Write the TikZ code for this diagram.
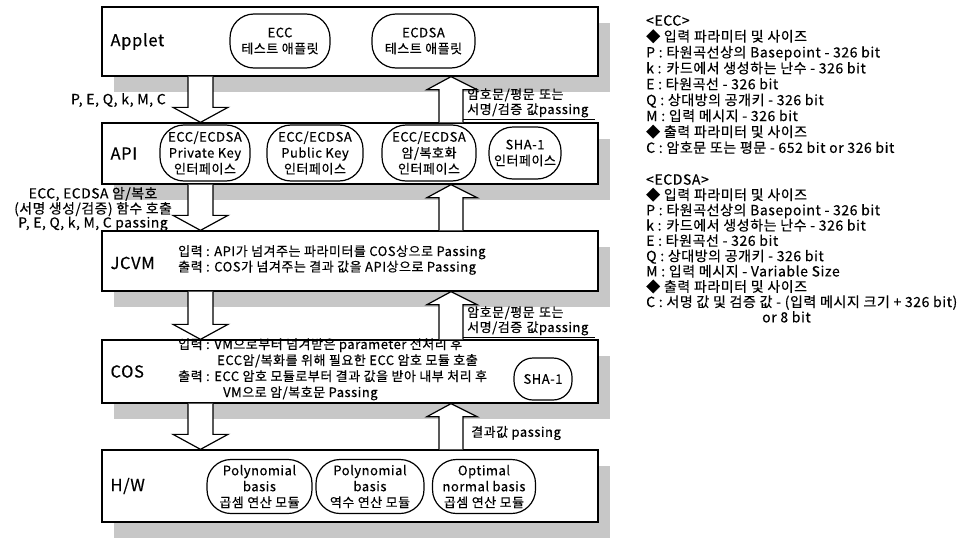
\documentclass[tikz,border=0pt]{standalone}
\usepackage{fontspec}
\setmainfont{Noto Sans CJK KR}[LetterSpace=4,FakeBold=0.4]
\usetikzlibrary{calc,positioning}

% hollow block arrows between two layers
\newcommand\blockdown[2]{%
  \draw[blockarrow] (188,0 |- #1.south) -- ($(188,0 |- #2.north)+(0,-15)$)
    -- ++(-15,0) -- (200.5,0 |- #2.north) -- ($(228,0 |- #2.north)+(0,-15)$)
    -- ++(-15,0) -- (213,0 |- #1.south);}
\newcommand\blockup[2]{%
  \draw[blockarrow] (439,0 |- #2.north) -- ($(439,0 |- #1.south)+(0,13)$)
    -- ++(-12,0) -- (451,0 |- #1.south) -- ($(477,0 |- #1.south)+(0,13)$)
    -- ++(-14,0) -- (463,0 |- #2.north);}

\begin{document}
\begin{tikzpicture}[x=1pt,y=-1pt,
  layer/.style={draw,line width=1.3pt,fill=white,minimum width=496pt,inner sep=0pt,
    preaction={fill=black!22,transform canvas={shift={(12pt,-16pt)}}}},
  tag/.style={font=\fontsize{16.5}{20}\selectfont,inner sep=0pt},
  module/.style={draw,line width=1.2pt,rounded corners=24pt,align=center,inner sep=0pt,
    font=\fontsize{13}{16}\selectfont},
  txt/.style={font=\fontsize{13}{15.5}\selectfont,align=left,inner sep=0pt},
  passlbl/.style={font=\fontsize{13}{15}\selectfont,anchor=south west,text width=124pt,
    inner xsep=4pt,inner ysep=1.5pt,align=left},
  blockarrow/.style={draw,fill=white,line width=1.2pt,line join=miter}]
  \useasboundingbox (0,0) rectangle (958,538);

  % layers
  \node[layer,minimum height=69pt] (applet) at (350,41.5) {};
  \node[layer,minimum height=61pt] (api) at (350,153.5) {};
  \node[layer,minimum height=60pt] (jcvm) at (350,261) {};
  \node[layer,minimum height=63pt] (cos) at (350,371.5) {};
  \node[layer,minimum height=72pt] (hw) at (350,486) {};

  \node[tag,right=9pt of applet.west] (appletname) {Applet};
  \node[tag,right=9pt of api.west] (apiname) {API};
  \node[tag,right=9pt of jcvm.west,yshift=-2pt] (jcvmname) {JCVM};
  \node[tag,right=9pt of cos.west] (cosname) {COS};
  \node[tag,right=9pt of hw.west] (hwname) {H/W};

  % modules
  \node[module,minimum width=100pt,minimum height=54pt] (eccapp) at (280,41) {ECC\\테스트 애플릿};
  \node[module,minimum width=103pt,minimum height=54pt] (ecdsaapp) at (423.5,41) {ECDSA\\테스트 애플릿};
  \node[module,minimum width=90pt,minimum height=56pt] (privkey) at (205,153) {ECC/ECDSA\\Private Key\\인터페이스};
  \node[module,minimum width=96pt,minimum height=56pt] (pubkey) at (315,153) {ECC/ECDSA\\Public Key\\인터페이스};
  \node[module,minimum width=94pt,minimum height=56pt] (cryptif) at (429,153) {ECC/ECDSA\\암/복호화\\인터페이스};
  \node[module,minimum width=72pt,minimum height=52pt] (shaif) at (525,153) {SHA-1\\인터페이스};
  \node[module,rounded corners=19pt,minimum width=58pt,minimum height=42pt] (shacos) at (543,379) {SHA-1};
  \node[module,minimum width=105pt,minimum height=54pt] (polymul) at (259.5,486.5) {Polynomial\\basis\\곱셈 연산 모듈};
  \node[module,minimum width=108pt,minimum height=54pt] (polyinv) at (370,486.5) {Polynomial\\basis\\역수 연산 모듈};
  \node[module,minimum width=103pt,minimum height=54pt] (onbmul) at (484,486.5) {Optimal\\normal basis\\곱셈 연산 모듈};

  % layer texts
  \node[txt,anchor=west] (jcvmtxt) at (178,260) {입력 : API가 넘겨주는 파라미터를 COS상으로 Passing\\
    출력 : COS가 넘겨주는 결과 값을 API상으로 Passing};
  \node[txt,anchor=north west,font=\fontsize{13}{16}\selectfont] (costxt) at (178,338) {입력 : VM으로부터 넘겨받은 parameter 전처리 후\\
    \hspace*{39pt}ECC암/복화를 위해 필요한 ECC 암호 모듈 호출\\
    출력 : ECC 암호 모듈로부터 결과 값을 받아 내부 처리 후\\
    \hspace*{45pt}VM으로 암/복호문 Passing};

  % arrows
  \blockdown{applet}{api}
  \blockdown{api}{jcvm}
  \blockdown{jcvm}{cos}
  \blockdown{cos}{hw}
  \blockup{applet}{api}
  \blockup{api}{jcvm}
  \blockup{jcvm}{cos}
  \blockup{cos}{hw}

  % arrow labels
  \node[txt,anchor=east,font=\fontsize{14}{15}\selectfont] (downlbl1) at (166,100) {P, E, Q, k, M, C};
  \node[txt,anchor=east,align=center,font=\fontsize{13.8}{14}\selectfont] (downlbl2) at (172,209)
    {ECC, ECDSA 암/복호\\(서명 생성/검증) 함수 호출\\P, E, Q, k, M, C passing};
  \node[passlbl] (uplbl1) at (463,119) {암호문/평문 또는\\서명/검증 값passing};
  \node[passlbl] (uplbl2) at (463,337) {암호문/평문 또는\\서명/검증 값passing};
  \draw[line width=1pt] (uplbl1.south west) -- (uplbl1.south east);
  \draw[line width=1pt] (uplbl2.south west) -- (uplbl2.south east);
  \node[txt,anchor=west] (uplbl3) at (471,433) {결과값 passing};

  % parameter notes
  \node[txt,anchor=north west,font=\fontsize{14}{15.9}\selectfont] (eccnote) at (646,15) {<ECC>\\
    ◆ 입력 파라미터 및 사이즈\\
    P : 타원곡선상의 Basepoint - 326 bit\\
    k : 카드에서 생성하는 난수 - 326 bit\\
    E : 타원곡선 - 326 bit\\
    Q : 상대방의 공개키 - 326 bit\\
    M : 입력 메시지 - 326 bit\\
    ◆ 출력 파라미터 및 사이즈\\
    C : 암호문 또는 평문 - 652 bit or 326 bit};
  \node[txt,anchor=north west,font=\fontsize{14}{15.3}\selectfont] (ecdsanote) at (646,174) {<ECDSA>\\
    ◆ 입력 파라미터 및 사이즈\\
    P : 타원곡선상의 Basepoint - 326 bit\\
    k : 카드에서 생성하는 난수 - 326 bit\\
    E : 타원곡선 - 326 bit\\
    Q : 상대방의 공개키 - 326 bit\\
    M : 입력 메시지 - Variable Size\\
    ◆ 출력 파라미터 및 사이즈\\
    C : 서명 값 및 검증 값 - (입력 메시지 크기 + 326 bit)\\
    \hspace*{116pt}or 8 bit};
\end{tikzpicture}
\end{document}
